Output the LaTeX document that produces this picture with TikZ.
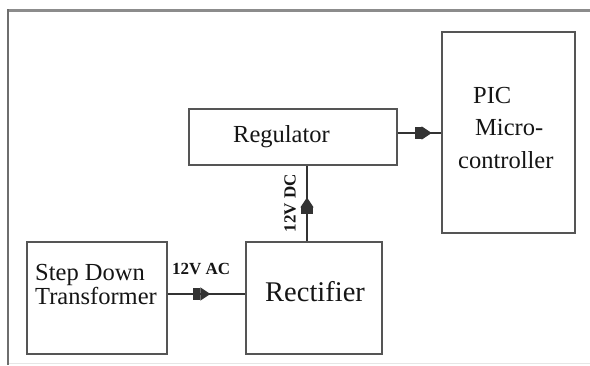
\documentclass[tikz,border=0pt]{standalone}
\usepackage{fontspec}
\setmainfont{Liberation Serif}
\usetikzlibrary{arrows.meta,decorations.markings}
\definecolor{boxgray}{HTML}{555555}
\definecolor{linegray}{HTML}{333333}
\definecolor{framegray}{HTML}{8C8C8C}
\definecolor{leftgray}{HTML}{6E6E6E}
\definecolor{botgray}{HTML}{E6E6E6}
\definecolor{txt}{HTML}{151515}
\begin{document}
\begin{tikzpicture}[x=1pt,y=-1pt,
  blk/.style={draw=boxgray, line width=1.4pt, inner sep=0pt, fill=white},
  lbl/.style={inner sep=0pt, anchor=base west, text=txt, font=\fontsize{24.5}{26}\selectfont},
  big/.style={lbl, font=\fontsize{28.5}{30}\selectfont},
  small/.style={inner sep=0pt, text=txt, font=\bfseries\fontsize{17}{19}\selectfont},
  flow/.style={color=linegray, line width=1.2pt, postaction={decorate},
    decoration={markings, mark=at position #1 with {\arrow{Rectangle[length=7pt,width=12pt,sep=0pt] Triangle[length=10pt,width=13pt,sep=0pt]}}}}
]
\useasboundingbox (0,0) rectangle (590,365);
% frame
\draw[line width=3pt, framegray] (7,10.5) -- (590,10.5);
\draw[line width=2pt, leftgray] (8,9) -- (8,365);
\draw[line width=1pt, botgray] (9,363.5) -- (590,363.5);
% blocks
\node[blk, minimum width=140pt, minimum height=112pt] (tr) at (97,298) {};
\node[blk, minimum width=136pt, minimum height=112pt] (rc) at (314,298) {};
\node[blk, minimum width=208pt, minimum height=56pt] (rg) at (293,137) {};
\node[blk, minimum width=133pt, minimum height=201pt] (pic) at (508.5,132.5) {};
% texts
\node[lbl] (t1) at (35,280) {Step Down};
\node[lbl] (t2) at (35,304) {Transformer};
\node[big] (t3) at (265,301) {Rectifier};
\node[lbl] (t4) at (233,142) {Regulator};
\node[lbl] (t5) at (473,103) {PIC};
\node[lbl] (t6) at (475,135) {Micro-};
\node[lbl] (t7) at (458,168) {controller};
% connectors
\draw[flow=0.55] ([yshift=4pt]tr.east) coordinate (a1) -- (a1 -| rc.west);
\node[small, anchor=base west] (ac) at (172,274) {12V AC};
\draw[flow=0.58] ([xshift=-7pt]rc.north) coordinate (b1) -- (b1 |- rg.south);
\node[small, rotate=90] (dc) at (290,203) {12V DC};
\draw[flow=0.78] ([yshift=4pt]rg.east) coordinate (c1) -- (c1 -| pic.west);
\end{tikzpicture}
\end{document}
